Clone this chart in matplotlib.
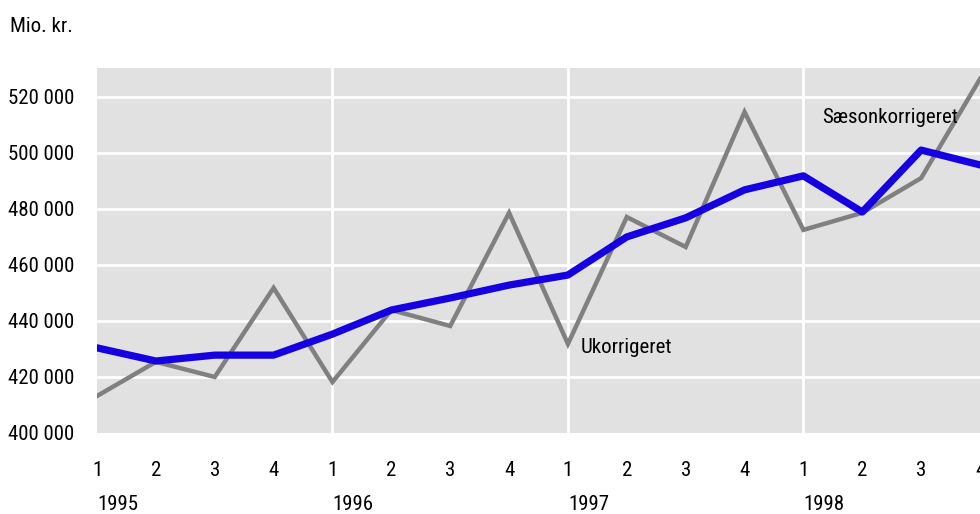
import matplotlib
matplotlib.use("Agg")
import matplotlib.pyplot as plt
from matplotlib import font_manager as fm
import matplotlib.transforms as mtransforms

names = {f.name for f in fm.fontManager.ttflist}
fam = ["Roboto Condensed", "Archivo Narrow", "PT Sans Narrow", "Liberation Sans", "DejaVu Sans"]
fam = [f for f in fam if f in names] or ["DejaVu Sans"]
plt.rcParams['font.family'] = fam

years = ["1995", "1996", "1997", "1998"]
quarters = ["1", "2", "3", "4"]
ukorrigeret = [413200, 425400, 420000, 451800,
               418200, 443900, 438200, 478600,
               431800, 477100, 466400, 514600,
               472500, 478600, 491000, 526400]
saeson = [430400, 425700, 427800, 427800,
          435300, 443900, 448200, 452800,
          456400, 470000, 476800, 486800,
          491800, 478900, 501000, 495700]
yticks = [400000, 420000, 440000, 460000, 480000, 500000, 520000]

FS = 15
x = list(range(len(ukorrigeret)))

fig = plt.figure(figsize=(9.8, 5.14), dpi=100)
ax = fig.add_axes([97/980, 1-433/514, 1-97/980, (433-68)/514])
ax.set_facecolor("#E1E1E1")
for s in ax.spines.values():
    s.set_visible(False)

for yv in yticks[1:]:
    ax.axhline(yv, color="white", lw=2, zorder=1)
for xv in [4, 8, 12]:
    ax.axvline(xv, color="white", lw=2, zorder=1)

ax.plot(x, ukorrigeret, color="#808080", lw=3.2, zorder=3, solid_joinstyle="miter")
ax.plot(x, saeson, color="#1400E0", lw=5.2, zorder=4, solid_joinstyle="round")

ax.set_xlim(0, 15)
ax.set_ylim(400000, 530300)

ax.set_yticks(yticks)
ax.set_yticklabels([f"{v:,}".replace(",", " ") for v in yticks])
ax.tick_params(axis="y", length=0, pad=64, labelsize=FS)
for lab in ax.get_yticklabels():
    lab.set_ha("left")

ax.set_xticks(x)
ax.set_xticklabels(quarters * len(years))
ax.tick_params(axis="x", length=0, pad=20, labelsize=FS)

trans = mtransforms.blended_transform_factory(ax.transData, fig.transFigure)
for i, yr in enumerate(years):
    ax.text(i * 4, 1 - 505/514, yr, transform=trans, ha="left", va="center", fontsize=FS)

ax.text(8.22, 430700, "Ukorrigeret", ha="left", va="center", fontsize=FS, zorder=5)
ax.text(12.32, 512800, "Sæsonkorrigeret", ha="left", va="center", fontsize=FS, zorder=5)
fig.text(10/980, 1 - 27/514, "Mio. kr.", ha="left", va="center", fontsize=FS)

fig.savefig("out.png", dpi=100)
